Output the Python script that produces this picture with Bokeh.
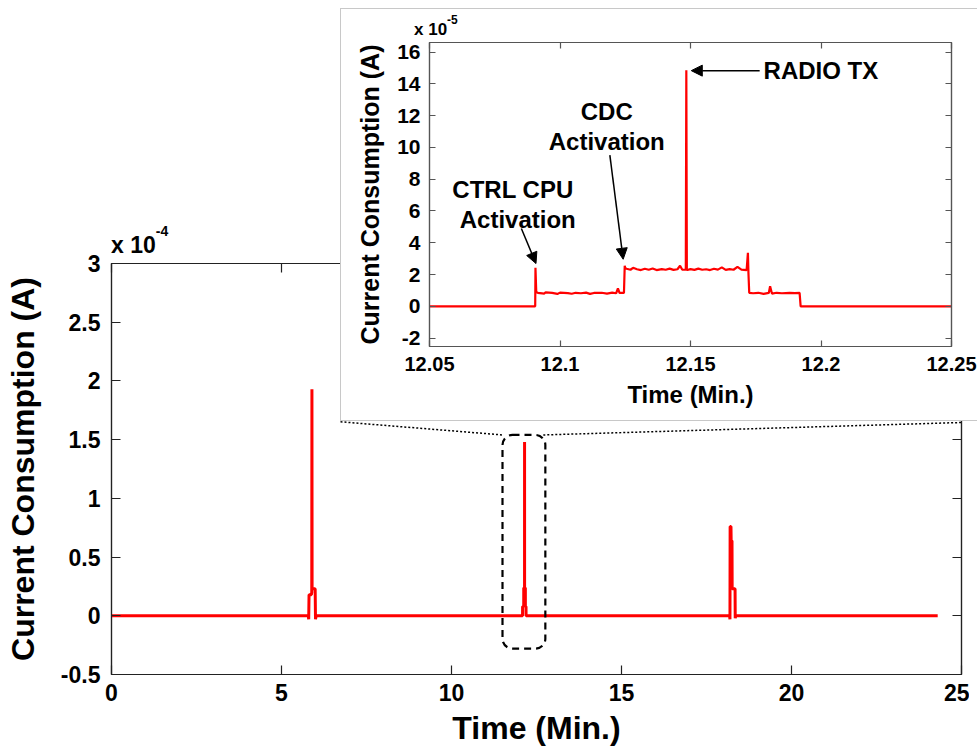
from bokeh.plotting import figure
from bokeh.models import (FixedTicker, LinearAxis, Range1d, BoxAnnotation, Arrow,
                          NormalHead, Label, Div)
from bokeh.embed import file_html
from bokeh.resources import INLINE

FONT = "Liberation Sans"

# ---------------- main trace (current in units of 1e-4 A) ----------------
main_t = [0.0, 5.79, 5.80, 5.81, 5.88, 5.89, 5.895, 5.90, 5.905, 5.99, 6.00, 6.02,
          12.05, 12.09, 12.091, 12.124, 12.125, 12.148, 12.149, 12.150, 12.172, 12.173,
          12.192, 12.193,
          18.18, 18.19, 18.195, 18.22, 18.225, 18.25, 18.255, 18.34, 18.345, 18.36, 24.3]
main_i = [0.0, 0.0, -0.03, 0.18, 0.18, 0.20, 1.93, 0.23, 0.23, 0.23, -0.03, 0.0,
          0.0, 0.0, 0.08, 0.08, 0.24, 0.23, 1.48, 0.23, 0.24, 0.08,
          0.08, 0.0,
          0.0, -0.03, 0.76, 0.76, 0.64, 0.64, 0.23, 0.23, -0.02, 0.0, 0.0]

main_xticks = [0, 5, 10, 15, 20, 25]
main_yticks = [-0.5, 0, 0.5, 1, 1.5, 2, 2.5, 3]

# ---------------- inset trace (current in units of 1e-5 A) ----------------
ins_t = [12.05, 12.0905, 12.0906, 12.0909,
         12.0915, 12.094, 12.0945, 12.097, 12.099, 12.100, 12.103, 12.1045, 12.106,
         12.108, 12.110, 12.1115, 12.113, 12.116, 12.118, 12.120, 12.1215, 12.1222,
         12.1228, 12.1245,
         12.1248, 12.1250, 12.1255,
         12.127, 12.128, 12.1295, 12.131, 12.1325, 12.134, 12.1355, 12.137, 12.139,
         12.1405, 12.142, 12.1435, 12.145, 12.146, 12.1468, 12.1482,
         12.1484, 12.1486, 12.1488,
         12.150, 12.1515, 12.153, 12.1545, 12.156, 12.1575, 12.159, 12.1605, 12.162,
         12.1635, 12.165, 12.1665, 12.168, 12.1695, 12.1715,
         12.1720, 12.1722, 12.1725,
         12.174, 12.176, 12.178, 12.1800, 12.1805, 12.1812, 12.183, 12.185, 12.188,
         12.190, 12.1918, 12.1922, 12.25]
ins_i = [0.0, 0.0, 2.42, 0.90,
         0.85, 0.80, 0.88, 0.84, 0.78, 0.86, 0.83, 0.79, 0.85,
         0.82, 0.86, 0.78, 0.84, 0.85, 0.80, 0.86, 0.82, 1.12,
         0.85, 0.84,
         2.55, 2.40, 2.36,
         2.30, 2.42, 2.33, 2.28, 2.36, 2.30, 2.38, 2.28, 2.34,
         2.30, 2.37, 2.29, 2.33, 2.55, 2.31, 2.30,
         14.85, 2.30, 2.28,
         2.34, 2.29, 2.37, 2.30, 2.33, 2.28, 2.36, 2.31, 2.45,
         2.29, 2.34, 2.30, 2.48, 2.31, 2.28,
         3.37, 2.10, 0.85,
         0.82, 0.85, 0.78, 0.84, 1.26, 0.80, 0.85, 0.82, 0.84,
         0.83, 0.84, 0.0, 0.0]

ins_xticks = [12.05, 12.1, 12.15, 12.2, 12.25]
ins_yticks = [-2, 0, 2, 4, 6, 8, 10, 12, 14, 16]

# zoom marker on the main plot (data units of main plot)
zoom_box = dict(left=11.5, right=12.76, bottom=-0.28, top=1.54)
link_left_x = [6.735, 11.5]
link_left_y = [1.652, 1.54]
link_right_x = [12.7, 25.0]
link_right_y = [1.54, 1.646]


def style_axis(ax, tick_in, size, color="black"):
    ax.major_tick_in = tick_in
    ax.major_tick_out = 0
    ax.minor_tick_line_color = None
    ax.axis_line_color = color
    ax.major_tick_line_color = color
    ax.axis_line_width = 1.2
    ax.major_tick_line_width = 1.2
    ax.major_label_text_font = FONT
    ax.major_label_text_font_style = "bold"
    ax.major_label_text_font_size = size
    ax.major_label_text_color = "black"
    ax.axis_label_text_font = FONT
    ax.axis_label_text_font_style = "bold"
    ax.axis_label_text_color = "black"


def box_axis(fig, loc, ticks, tick_in, color):
    # tick marks only (MATLAB "box on" look): labels are not drawn
    ax = LinearAxis(ticker=FixedTicker(ticks=ticks))
    ax.major_tick_in = tick_in
    ax.major_tick_out = 0
    ax.minor_tick_line_color = None
    ax.axis_line_color = color
    ax.major_tick_line_color = color
    ax.axis_line_width = 1.2
    ax.major_tick_line_width = 1.2
    ax.major_label_text_font_size = "1px"
    ax.major_label_text_color = None
    ax.major_label_standoff = 0
    fig.add_layout(ax, loc)


# ---------------- main figure ----------------
main = figure(width=969, height=745, x_range=Range1d(0, 25), y_range=Range1d(-0.5, 3),
              output_backend="svg", toolbar_location=None,
              min_border_left=111, min_border_right=8, min_border_top=259,
              min_border_bottom=75)
main.styles = {"position": "absolute", "left": "0px", "top": "4px", "z-index": "1"}
main.xgrid.visible = False
main.ygrid.visible = False
main.outline_line_color = "#222222"
main.outline_line_width = 1.2
main.background_fill_color = "white"
main.border_fill_color = "white"

xa = main.xaxis[0]
ya = main.yaxis[0]
style_axis(xa, 9, "23px", "#222222")
style_axis(ya, 9, "23px", "#222222")
xa.ticker = FixedTicker(ticks=main_xticks)
ya.ticker = FixedTicker(ticks=main_yticks)
xa.major_label_overrides = {t: str(t) for t in main_xticks}
ya.major_label_overrides = {t: str(t) for t in main_yticks}
xa.axis_label = "Time (Min.)"
ya.axis_label = "Current Consumption (A)"
xa.axis_label_text_font_size = "32px"
ya.axis_label_text_font_size = "32px"
xa.major_label_standoff = 9
xa.axis_label_standoff = 6
ya.major_label_standoff = 11
ya.axis_label_standoff = 17
box_axis(main, "above", main_xticks, 9, "#222222")
box_axis(main, "right", main_yticks, 9, "#222222")

main.line(main_t, main_i, line_color="#ff0000", line_width=3)

main.add_layout(BoxAnnotation(left=zoom_box["left"], right=zoom_box["right"],
                              bottom=zoom_box["bottom"], top=zoom_box["top"],
                              fill_color=None, fill_alpha=0, line_color="black",
                              line_alpha=1.0, line_width=2.2,
                              line_dash="7 5", border_radius=10))
main.line(link_left_x, link_left_y, line_color="black", line_width=1.5, line_dash="2 2")
main.line(link_right_x, link_right_y, line_color="black", line_width=1.5, line_dash="2 2")

# ---------------- inset figure ----------------
inset = figure(width=636, height=411, x_range=Range1d(12.05, 12.25),
               y_range=Range1d(-2.53, 16.6),
               output_backend="svg", toolbar_location=None,
               min_border_left=88, min_border_right=27, min_border_top=33,
               min_border_bottom=76)
inset.styles = {"position": "absolute", "left": "340px", "top": "8px", "z-index": "5",
                "box-sizing": "content-box",
                "border-left": "1px solid #c8c8c8", "border-top": "1px solid #c8c8c8",
                "border-bottom": "1px solid #c8c8c8", "background-color": "white"}
inset.xgrid.visible = False
inset.ygrid.visible = False
inset.outline_line_color = "#555555"
inset.outline_line_width = 1.2

ixa = inset.xaxis[0]
iya = inset.yaxis[0]
style_axis(ixa, 6, "20px", "#555555")
style_axis(iya, 6, "21px", "#555555")
ixa.ticker = FixedTicker(ticks=ins_xticks)
iya.ticker = FixedTicker(ticks=ins_yticks)
ixa.major_label_overrides = {t: str(t) for t in ins_xticks}
iya.major_label_overrides = {t: str(t) for t in ins_yticks}
ixa.axis_label = "Time (Min.)"
iya.axis_label = "Current Consumption (A)"
ixa.axis_label_text_font_size = "24px"
iya.axis_label_text_font_size = "25px"
ixa.major_label_standoff = 10
ixa.axis_label_standoff = 7
iya.major_label_standoff = 9
iya.axis_label_standoff = 10
box_axis(inset, "above", ins_xticks, 6, "#555555")
box_axis(inset, "right", ins_yticks, 6, "#555555")

inset.line(ins_t, ins_i, line_color="#ff0000", line_width=2.2)

# annotations: (text, x, y, align)
notes = [("RADIO TX", 12.178, 14.83, "left"),
         ("CDC", 12.1179, 12.24, "center"),
         ("Activation", 12.1179, 10.34, "center"),
         ("CTRL CPU", 12.082, 7.33, "center"),
         ("Activation", 12.0838, 5.46, "center")]
for txt, x, y, al in notes:
    inset.add_layout(Label(x=x, y=y, text=txt, text_font=FONT, text_font_style="bold",
                           text_font_size="24px", text_baseline="middle", text_align=al,
                           text_color="black"))

# arrows: (x_start, y_start, x_end, y_end)
arrows = [(12.1765, 14.83, 12.1503, 14.83),
          (12.1191, 9.51, 12.1242, 2.96),
          (12.0852, 4.90, 12.0908, 2.69)]
for xs, ys, xe, ye in arrows:
    inset.add_layout(Arrow(end=NormalHead(size=11, fill_color="black", line_color="black"),
                           x_start=xs, y_start=ys, x_end=xe, y_end=ye,
                           line_color="black", line_width=1.5))

# ---------------- axis exponent labels (x 10^-4, x 10^-5) ----------------
exp_main = Div(
    text=('<div style="font-family:\'Liberation Sans\';font-weight:bold;font-size:23px;'
          'line-height:23px;white-space:nowrap;color:black;margin:0;padding:0;">x 10'
          '<span style="position:relative;top:-17px;font-size:14px;">-4</span></div>'),
    width=90, height=30,
    styles={"position": "absolute", "left": "111px", "top": "234px", "z-index": "6",
            "margin": "0", "padding": "0"})
exp_inset = Div(
    text=('<div style="font-family:\'Liberation Sans\';font-weight:bold;font-size:17px;'
          'line-height:17px;white-space:nowrap;color:black;margin:0;padding:0;">x 10'
          '<span style="position:relative;top:-11px;font-size:12px;">-5</span></div>'),
    width=70, height=22,
    styles={"position": "absolute", "left": "414px", "top": "21px", "z-index": "7",
            "margin": "0", "padding": "0"})

p = [main, inset, exp_main, exp_inset]
open("out.html", "w").write(file_html(p, INLINE))
